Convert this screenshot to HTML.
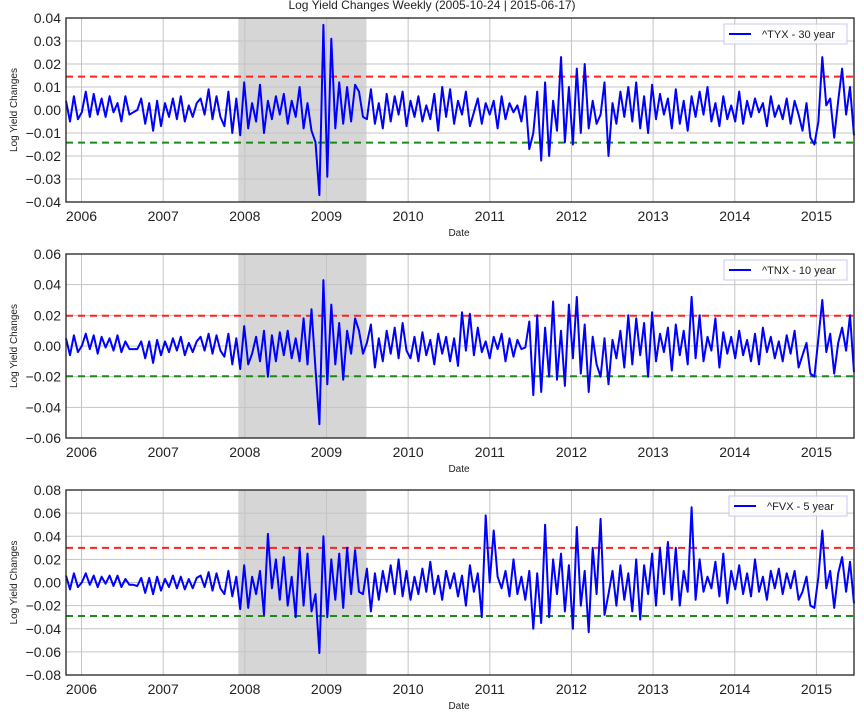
<!DOCTYPE html>
<html><head><meta charset="utf-8"><style>
body{margin:0;background:#fff;}
svg text{font-family:"Liberation Sans",sans-serif;}
</style></head><body>
<svg id="chart" width="864" height="720" xmlns="http://www.w3.org/2000/svg">
<text x="432" y="9" text-anchor="middle" font-size="12" fill="#222">Log Yield Changes Weekly (2005-10-24 | 2015-06-17)</text>
</svg>
<script>
const startYear = 2005.81, endYear = 2015.46;
const yearTicks = [2006,2007,2008,2009,2010,2011,2012,2013,2014,2015];
const shadeRange = [2007.92, 2009.49];
const tyxValues = [4,-5,6,-4,-1,8,-3,7,-2,5,-3,6,-1,3,-5,6,-2,-1,0,5,-6,3,-9,4,-7,3,-3,5,-4,6,-5,2,-3,3,5,-2,9,-4,6,-3,-7,8,-10,5,-11,
12,-8,3,-5,11,-10,4,-4,6,-2,7,-6,4,-3,10,-8,3,-9,-14,-37,37,-29,31,-8,12,-6,10,-5,11,8,-3,
-4,9,-6,3,-8,7,-5,6,-2,8,-7,4,-3,6,-5,2,-4,7,-9,10,-3,9,-6,4,-2,8,-7,-1,5,-6,3,-2,4,-8,6,-4,3,-1,2,-5,6,
-17,-10,8,-22,12,-20,4,-9,23,-14,10,-15,18,-10,20,-8,4,-6,-2,12,-20,
3,-6,8,-3,10,-5,12,-8,6,-10,11,-4,7,-2,5,-8,9,-6,4,-9,6,-3,8,-2,10,-5,3,-7,6,-4,2,-5,8,-6,4,-3,5,-1,3,-7,6,-3,2,-4,5,-6,4,-2,-9,3,-12,-15,
-5,23,2,5,-12,4,18,-2,10,-11];
const tnxValues = [5,-6,7,-4,0,8,-2,7,-5,6,-1,5,-3,7,-4,3,-2,-2,-2,3,-8,3,-11,4,-6,3,-4,5,-3,6,-6,2,-4,3,6,-3,8,-5,7,-3,-7,8,-12,5,-15,
13,-12,-5,6,-10,10,-20,7,-10,9,-6,10,-8,5,-10,18,-12,24,-15,-51,43,-25,27,-12,15,-22,10,-5,18,10,-5,
2,14,-14,5,-10,10,-5,12,-8,15,-3,-8,6,-10,9,-6,4,-12,8,-5,6,-10,5,-13,22,-3,21,-6,12,-4,3,-8,6,-2,8,-10,5,-7,4,-2,-1,
16,-32,20,-30,12,-20,29,-22,10,-26,27,-8,32,-18,14,-30,6,-12,-20,5,-25,
4,-8,10,-14,20,-12,18,-6,15,-20,22,-10,8,-4,12,-16,14,-6,10,-12,32,-8,20,-10,6,-3,18,-14,9,-5,6,-8,10,-6,4,-10,8,-12,12,-4,6,-8,3,-10,7,-5,10,-14,-6,2,-18,-20,
5,30,-4,8,-18,2,12,-3,20,-17];
const fvxValues = [6,-6,8,-4,0,8,-2,6,-4,5,-1,6,-3,6,-4,3,-2,-2,-3,4,-9,4,-10,5,-7,3,-4,6,-5,5,-6,3,-5,4,6,-4,9,-7,8,-5,-10,10,-12,5,-23,
15,-22,5,-10,10,-28,42,-5,20,-15,22,-20,5,-30,30,-20,25,-25,-10,-61,40,-30,20,-15,25,-22,30,-10,28,-8,-10,
12,-25,8,-15,10,-8,15,-10,20,-12,10,-15,5,-10,12,-8,18,-10,6,-15,10,-5,8,-12,6,-20,15,-8,8,-30,58,0,45,5,-5,10,-12,20,-10,5,-15,
10,-40,8,-35,50,-30,20,-10,25,-25,15,-40,48,-20,10,-43,30,-10,55,-28,-10,
10,-20,15,-15,8,-25,20,-32,15,-10,25,-20,30,-10,35,-15,30,-20,10,-8,65,-15,20,-8,5,-5,18,-12,25,-18,10,-6,15,-10,8,-12,20,-8,5,-15,10,-5,12,-10,8,-5,10,-15,-8,5,-20,-22,
5,45,-5,10,-22,8,22,-8,18,-18];
const panelLabels = ["^TYX - 30 year","^TNX - 10 year","^FVX - 5 year"];
const yTicks1 = [0.04,0.03,0.02,0.01,0.00,-0.01,-0.02,-0.03,-0.04];
const yTicks2 = [0.06,0.04,0.02,0.00,-0.02,-0.04,-0.06];
const yTicks3 = [0.08,0.06,0.04,0.02,0.00,-0.02,-0.04,-0.06,-0.08];
const upperBands = [0.0145,0.0197,0.030];
const lowerBands = [-0.0142,-0.0197,-0.029];

const NS="http://www.w3.org/2000/svg";
const svg=document.getElementById('chart');
function mk(tag,attrs,parent){const e=document.createElementNS(NS,tag);for(const k in attrs)e.setAttribute(k,attrs[k]);(parent||svg).appendChild(e);return e;}
const L=66,R=854;
function xScale(yr){return L+(yr-startYear)/(endYear-startYear)*(R-L);}
function fmt(v,d){let s=v.toFixed(d);if(v<0)s='\u2212'+s.slice(1);return s;}

const panels=[
 {top:18,bot:202,vals:tyxValues,ticks:yTicks1,lo:-0.04,hi:0.04,dec:2,legW:123},
 {top:254,bot:438,vals:tnxValues,ticks:yTicks2,lo:-0.06,hi:0.06,dec:2,legW:123},
 {top:490,bot:675,vals:fvxValues,ticks:yTicks3,lo:-0.08,hi:0.08,dec:2,legW:118}
];
panels.forEach((p,pi)=>{
 const g=mk('g',{});
 
 
 const yS=v=>p.bot-(v-p.lo)/(p.hi-p.lo)*(p.bot-p.top);
 const sh=mk('rect',{x:xScale(shadeRange[0]),y:p.top,width:xScale(shadeRange[1])-xScale(shadeRange[0]),height:p.bot-p.top,fill:'#d6d6d6'},g);
 
 
 p.ticks.forEach(t=>{
  const y=yS(t);
  const gl=mk('line',{x1:L,x2:R,y1:y,y2:y,stroke:'#c4c4c4','stroke-width':1},g);
  
  
  const tl=mk('text',{x:L-5,y:y+5,'text-anchor':'end','font-size':14,fill:'#222'},g);
  tl.textContent=fmt(t,p.dec);
  
  
 });
 yearTicks.forEach(yr=>{
  const x=xScale(yr);
  const gl=mk('line',{x1:x,x2:x,y1:p.top,y2:p.bot,stroke:'#c4c4c4','stroke-width':1},g);
  
  
  const tl=mk('text',{x:x,y:p.bot+19,'text-anchor':'middle','font-size':14,fill:'#222'},g);
  tl.textContent=yr;
  
  
 });
 const ub=mk('line',{x1:L,x2:R,y1:yS(upperBands[pi]),y2:yS(upperBands[pi]),stroke:'#ff2020','stroke-width':2,'stroke-dasharray':'7,5'},g);
 
 
 const lb=mk('line',{x1:L,x2:R,y1:yS(lowerBands[pi]),y2:yS(lowerBands[pi]),stroke:'#1a8a1a','stroke-width':2,'stroke-dasharray':'7,5'},g);
 
 
 const n=p.vals.length;
 const pts=p.vals.map((v,i)=>{const yr=startYear+i/(n-1)*(endYear-startYear);return xScale(yr).toFixed(1)+','+yS(v/1000).toFixed(1);}).join(' ');
 const ln=mk('polyline',{points:pts,fill:'none',stroke:'#0000ff','stroke-width':2,'stroke-linejoin':'round'},g);
 
 
 const fr=mk('rect',{x:L,y:p.top,width:R-L,height:p.bot-p.top,fill:'none',stroke:'#222','stroke-width':1.3},g);
 
 
 const lx=R-7-p.legW, ly=p.top+6;
 const lg=mk('g',{},g);
 
 
 mk('rect',{x:lx,y:ly,width:p.legW,height:20,fill:'#fff','fill-opacity':0.8,stroke:'#c8c8f0','stroke-width':1},lg);
 mk('line',{x1:lx+5,x2:lx+27,y1:ly+10,y2:ly+10,stroke:'#0000ff','stroke-width':2},lg);
 const lt=mk('text',{x:lx+38,y:ly+14,'font-size':11,fill:'#222'},lg);
 lt.textContent=panelLabels[pi];
 
 
 const xl=mk('text',{x:459,y:p.bot+34,'text-anchor':'middle','font-size':10,fill:'#222'},g);
 xl.textContent='Date';
 
 
 const cy=(p.top+p.bot)/2;
 const yl=mk('text',{x:17,y:cy,'text-anchor':'middle','font-size':10,fill:'#222',transform:'rotate(-90 17 '+cy+')'},g);
 yl.textContent='Log Yield Changes';
 
 
});
</script>
</body></html>
